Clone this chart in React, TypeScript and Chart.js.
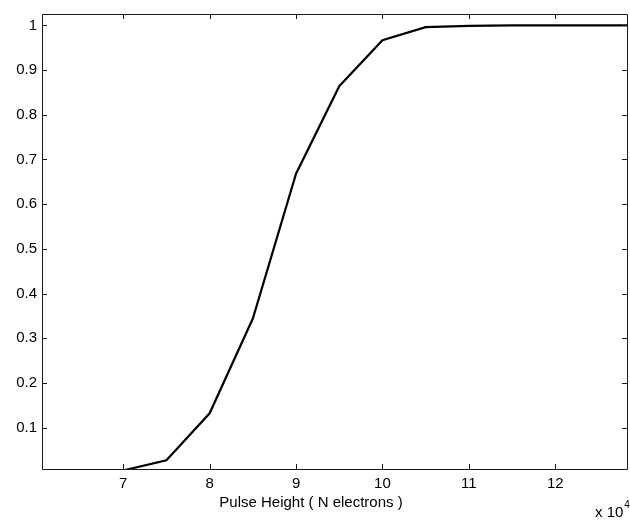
import React, { useEffect, useRef } from "react";
import { Chart, registerables } from "chart.js";

Chart.register(...registerables);

// Pulse height in electrons
const pulseHeights = [65000, 70000, 75000, 80000, 85000, 90000, 95000, 100000, 105000, 110000, 115000, 120000, 125000, 130000];
// Efficiency values
const efficiency = [0.0, 0.004, 0.027, 0.132, 0.344, 0.668, 0.864, 0.967, 0.996, 0.999, 1.0, 1.0, 1.0, 1.0];

const xTickValues = [70000, 80000, 90000, 100000, 110000, 120000];
const yTickValues = [0.1, 0.2, 0.3, 0.4, 0.5, 0.6, 0.7, 0.8, 0.9, 1.0];
const yTickLabels = ["0.1", "0.2", "0.3", "0.4", "0.5", "0.6", "0.7", "0.8", "0.9", "1"];

const xLabel = "Pulse Height ( N electrons )";
const FONT = "'Liberation Sans', Arial, Helvetica, sans-serif";
const FS = 15;

export default function App() {
  const ref = useRef<HTMLCanvasElement | null>(null);

  useEffect(() => {
    const canvas = ref.current;
    if (!canvas) return;

    const frame = {
      id: "matlabFrame",
      afterDraw(chart: any) {
        const { ctx, chartArea } = chart;
        const xs = chart.scales.x;
        const ys = chart.scales.y;
        const L = chartArea.left, R = chartArea.right, T = chartArea.top, B = chartArea.bottom;
        ctx.save();
        ctx.strokeStyle = "#1a1a1a";
        ctx.lineWidth = 1;
        ctx.beginPath();
        ctx.rect(Math.round(L) + 0.5, Math.round(T) + 0.5, Math.round(R - L), Math.round(B - T));
        ctx.stroke();
        const tl = 5;
        ctx.beginPath();
        xTickValues.forEach((v) => {
          const px = Math.round(xs.getPixelForValue(v)) + 0.5;
          ctx.moveTo(px, B);
          ctx.lineTo(px, B - tl);
          ctx.moveTo(px, T);
          ctx.lineTo(px, T + tl);
        });
        yTickValues.forEach((v) => {
          const py = Math.round(ys.getPixelForValue(v)) + 0.5;
          ctx.moveTo(L, py);
          ctx.lineTo(L + tl, py);
          ctx.moveTo(R, py);
          ctx.lineTo(R - tl, py);
        });
        ctx.stroke();

        ctx.fillStyle = "#000";
        ctx.font = `${FS}px ${FONT}`;
        ctx.textAlign = "center";
        ctx.textBaseline = "alphabetic";
        ctx.fillText(xLabel, 311, 507);
        ctx.textAlign = "left";
        ctx.fillText("x 10", 595, 517);
        const w = ctx.measureText("x 10").width;
        ctx.font = `10px ${FONT}`;
        ctx.fillText("4", 595 + w + 1, 508);
        ctx.restore();
      },
    };

    const chart = new Chart(canvas, {
      type: "line",
      data: {
        datasets: [
          {
            data: pulseHeights.map((x, i) => ({ x, y: efficiency[i] })),
            borderColor: "#000",
            borderWidth: 2.2,
            pointRadius: 0,
            tension: 0,
            fill: false,
            clip: 0,
          },
        ],
      },
      options: {
        responsive: false,
        animation: false,
        events: [],
        layout: { padding: { top: 6, right: 3, left: 0, bottom: 0 } },
        plugins: { legend: { display: false }, tooltip: { enabled: false }, title: { display: false } },
        scales: {
          x: {
            type: "linear",
            min: 60600,
            max: 128300,
            afterBuildTicks: (s: any) => {
              s.ticks = xTickValues.map((v) => ({ value: v }));
            },
            afterFit: (s: any) => {
              s.height = 52;
            },
            grid: { display: false, drawTicks: false },
            border: { display: false },
            ticks: {
              padding: 6,
              color: "#000",
              font: { family: FONT, size: FS },
              maxRotation: 0,
              autoSkip: false,
              callback: (v: any) => String(Number(v) / 10000),
            },
          },
          y: {
            type: "linear",
            min: 0.0073,
            max: 1.0255,
            afterBuildTicks: (s: any) => {
              s.ticks = yTickValues.map((v) => ({ value: v }));
            },
            afterFit: (s: any) => {
              s.width = 42;
            },
            grid: { display: false, drawTicks: false },
            border: { display: false },
            ticks: {
              padding: 5,
              color: "#000",
              font: { family: FONT, size: FS },
              autoSkip: false,
              callback: (v: any) => {
                const i = yTickValues.findIndex((t) => Math.abs(t - Number(v)) < 1e-9);
                return i >= 0 ? yTickLabels[i] : "";
              },
            },
          },
        },
      },
      plugins: [frame],
    });

    return () => chart.destroy();
  }, []);

  return (
    <canvas
      ref={ref}
      width={630}
      height={521}
      style={{ position: "fixed", left: 0, top: 0, width: 630, height: 521, display: "block", background: "#fff" }}
    />
  );
}
